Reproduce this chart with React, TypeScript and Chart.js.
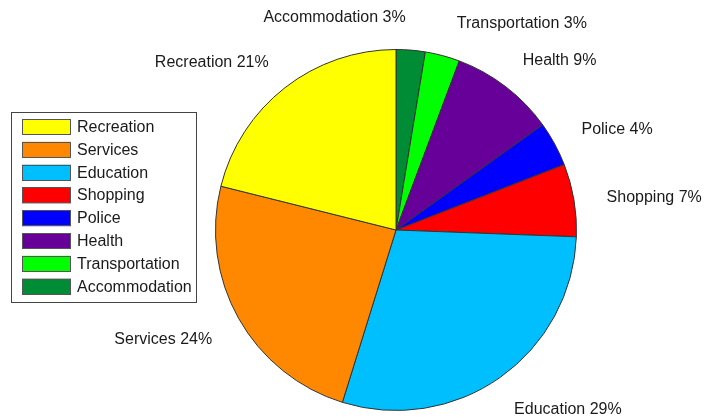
import React, { useEffect, useRef } from "react";
import { Chart, registerables } from "chart.js";

Chart.register(...registerables);

// Clockwise from 12 o'clock
const categories = ["Accommodation", "Transportation", "Health", "Police", "Shopping", "Education", "Services", "Recreation"];
const shares = [2.6, 3.1, 9.4, 4.0, 6.5, 29.2, 24.1, 21.1];
const colors = ["#008C35", "#00FF00", "#660099", "#0000FF", "#FF0000", "#00BFFF", "#FF8800", "#FFFF00"];
const labelAlign = ["right", "left", "left", "left", "left", "left", "right", "right"];
const labelNudgeX = [-8, 5, -5, -5, -3, -7, 5, 6];
// Legend order (top to bottom)
const legendOrder = ["Recreation", "Services", "Education", "Shopping", "Police", "Health", "Transportation", "Accommodation"];

const FONT = '16px "Liberation Sans", Arial, sans-serif';

const overlayPlugin = {
  id: "overlay",
  afterDraw(chart: any) {
    const ctx = chart.ctx as CanvasRenderingContext2D;
    const meta = chart.getDatasetMeta(0);
    ctx.save();
    ctx.font = FONT;
    ctx.fillStyle = "#1a1a1a";
    ctx.textBaseline = "middle";
    meta.data.forEach((arc: any, i: number) => {
      const { x, y, startAngle, endAngle, outerRadius } = arc.getProps(["x", "y", "startAngle", "endAngle", "outerRadius"], true);
      const mid = (startAngle + endAngle) / 2;
      const r = outerRadius * 1.2;
      const ax = x + Math.cos(mid) * r + labelNudgeX[i];
      const ay = y + Math.sin(mid) * r + 3;
      ctx.textAlign = labelAlign[i] as CanvasTextAlign;
      ctx.fillText(`${categories[i]} ${Math.round(shares[i])}%`, ax, ay);
    });

    // Legend
    const bx = 11.5, by = 112.5, bw = 185, bh = 190;
    ctx.fillStyle = "#ffffff";
    ctx.fillRect(bx, by, bw, bh);
    ctx.strokeStyle = "#444";
    ctx.lineWidth = 1;
    ctx.strokeRect(bx, by, bw, bh);
    legendOrder.forEach((name, j) => {
      const idx = categories.indexOf(name);
      const sy = 119 + j * 22.8;
      ctx.fillStyle = colors[idx];
      ctx.fillRect(22, sy, 49, 16);
      ctx.strokeStyle = "#555";
      ctx.strokeRect(22.5, Math.round(sy) + 0.5, 48, 15);
      ctx.fillStyle = "#1a1a1a";
      ctx.textAlign = "left";
      ctx.fillText(name, 77, sy + 8.5);
    });
    ctx.restore();
  },
};

export default function App() {
  const ref = useRef<HTMLCanvasElement | null>(null);
  useEffect(() => {
    document.body.style.margin = "0";
    const canvas = ref.current!;
    const chart = new Chart(canvas, {
      type: "pie",
      data: {
        labels: categories,
        datasets: [
          {
            data: shares,
            backgroundColor: colors,
            borderColor: "#333",
            borderWidth: 1,
          },
        ],
      },
      options: {
        responsive: false,
        animation: false,
        layout: { padding: { left: 215, right: 128, top: 49, bottom: 8 } },
        plugins: { legend: { display: false }, tooltip: { enabled: false } },
      },
      plugins: [overlayPlugin],
    });
    return () => chart.destroy();
  }, []);
  return (
    <div style={{ width: 705, height: 419, background: "#fff" }}>
      <canvas ref={ref} width={705} height={419} style={{ display: "block" }} />
    </div>
  );
}
